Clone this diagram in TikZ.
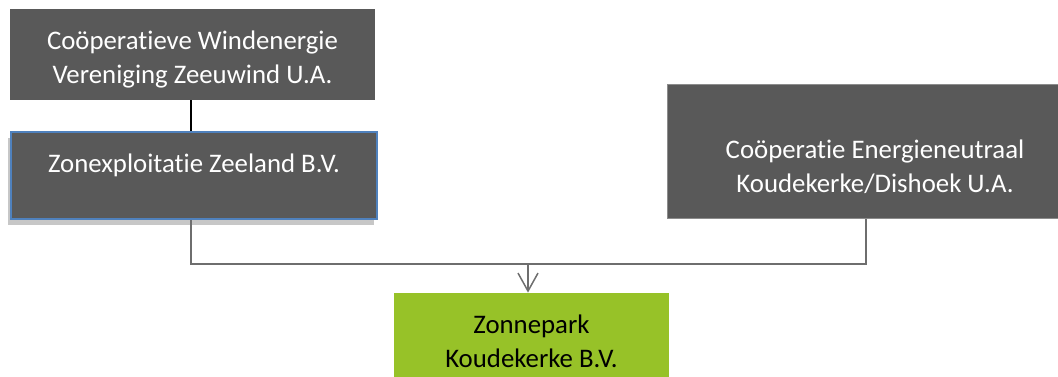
\documentclass[tikz,border=0pt]{standalone}
\usepackage{fontspec}
\setmainfont{Carlito}[Ligatures=CommonOff]
\usetikzlibrary{arrows.meta}
\usetikzlibrary{shadows}
\definecolor{boxgray}{RGB}{89,89,89}
\definecolor{parkgreen}{RGB}{151,194,40}
\definecolor{edgeblue}{RGB}{79,129,189}
\definecolor{linegray}{RGB}{110,110,110}

\begin{document}
\begin{tikzpicture}[x=0.5pt,y=-0.5pt,
		font=\fontsize{13.4}{16.8}\selectfont,
		org/.style={fill=boxgray,text=white,align=center,inner sep=0pt},
		link/.style={draw=linegray,line width=0.75pt}]
	\useasboundingbox (0,0) rectangle (1058,376);
	% bovenste laag
	\node[org,minimum width=182.5pt,minimum height=45.5pt,text depth=0pt,text height=29pt] (wind) at (192.5,54.5)
		{Coöperatieve Windenergie\\Vereniging Zeeuwind U.A.};
	\node[org,draw=edgeblue,line width=1pt,minimum width=183pt,minimum height=43.5pt,text height=10pt,text depth=13pt,
		drop shadow={shadow xshift=-1.5pt,shadow yshift=-3pt,fill=black!22,opacity=1}] (zex) at (194,175.5)
		{Zonexploitatie Zeeland B.V.};
	\node[org,draw=black!45,line width=0.5pt,minimum width=208pt,minimum height=67pt,text depth=0pt,text height=41.5pt] (ced) at (875,151)
		{Coöperatie Energieneutraal\\Koudekerke/Dishoek U.A.};
	% onderste laag
	\node[fill=parkgreen,align=center,inner sep=0pt,minimum width=137.5pt,minimum height=47pt,text depth=0pt,text height=27.5pt] (park) at (531.5,340)
		{Zonnepark\\Koudekerke B.V.};
	\coordinate (join) at (528,264);

	\draw[line width=0.9pt] ([xshift=-0.75pt]wind.south) -- ([xshift=-0.75pt]wind.south |- zex.north);
	\draw[link] ([xshift=-1.5pt]zex.south) |- (join) -| ([xshift=-4.5pt]ced.south);
	\draw[link,-{Straight Barb[length=9pt,width=10pt]}] (join) -- (join |- park.north);
\end{tikzpicture}
\end{document}
